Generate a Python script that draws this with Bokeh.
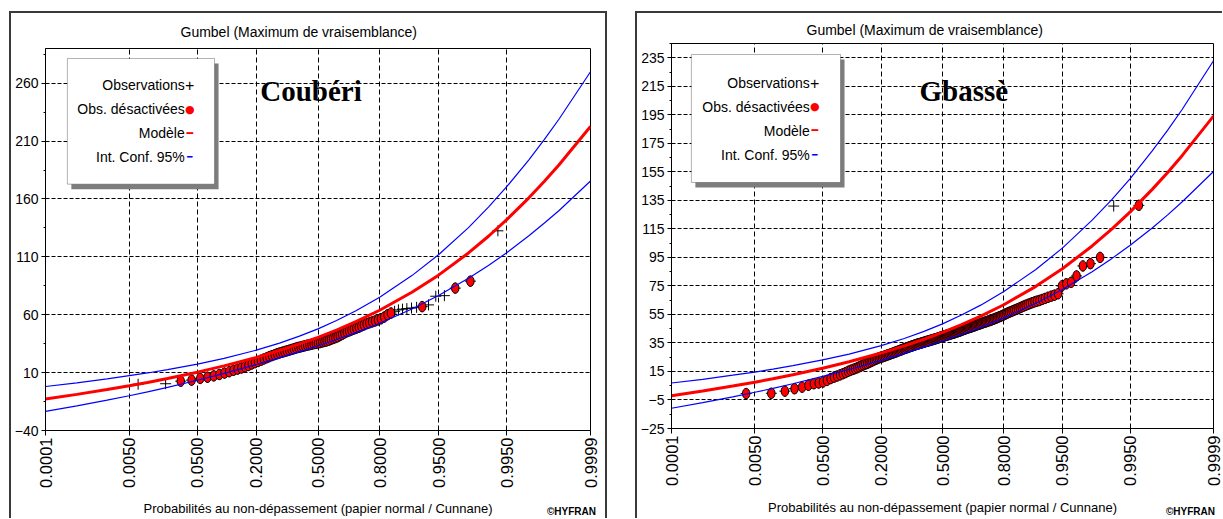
import math
from bokeh.plotting import figure
from bokeh.models import Range1d, FixedTicker, CustomJSTickFormatter, Label, BoxAnnotation, Div
from bokeh.layouts import row, column
from bokeh.embed import file_html
from bokeh.resources import INLINE

# ---------------- data ----------------
TICK_PROBS = [0.0001, 0.005, 0.05, 0.2, 0.5, 0.8, 0.95, 0.995, 0.9999]
TICK_LABELS = ["0.0001", "0.0050", "0.0500", "0.2000", "0.5000", "0.8000", "0.9500", "0.9950", "0.9999"]

CURVE_P = [0.0001, 0.0005, 0.002, 0.005, 0.01, 0.02, 0.05, 0.1, 0.2, 0.3, 0.4, 0.5,
           0.6, 0.7, 0.8, 0.9, 0.95, 0.98, 0.99, 0.995, 0.998, 0.999, 0.9995, 0.9999]

left_model = [-12.7, -8.8, -4.6, -1.3, 1.5, 4.9, 10.4, 15.8, 23.2, 29.2, 34.8, 40.5,
              46.8, 54.2, 63.9, 79.4, 94.2, 113.4, 127.8, 142.1, 161.0, 175.3, 189.6, 222.7]
left_upper = [-2.0, 1.2, 4.6, 7.4, 9.7, 12.6, 17.4, 22.3, 29.4, 35.5, 41.5, 47.8,
              55.0, 63.6, 75.1, 93.8, 111.8, 135.3, 153.0, 170.6, 193.8, 211.5, 229.1, 269.9]
left_lower = [-23.4, -18.8, -13.8, -10.0, -6.7, -2.8, 3.4, 9.3, 17.0, 22.9, 28.1, 33.2,
              38.6, 44.8, 52.7, 65.0, 76.6, 91.5, 102.6, 113.6, 128.2, 139.2, 150.1, 175.5]

right_model = [-2.0, 1.3, 4.8, 7.5, 9.9, 12.7, 17.3, 21.8, 27.9, 32.9, 37.6, 42.4,
               47.6, 53.8, 61.8, 74.7, 87.0, 103.0, 115.0, 126.9, 142.7, 154.6, 166.5, 194.1]
right_upper = [6.9, 9.5, 12.4, 14.6, 16.7, 19.1, 23.1, 27.2, 33.1, 38.1, 43.1, 48.4,
               54.4, 61.5, 71.1, 86.5, 101.5, 121.1, 135.7, 150.3, 169.7, 184.3, 198.9, 232.9]
right_lower = [-10.8, -6.9, -2.8, 0.4, 3.1, 6.4, 11.5, 16.4, 22.8, 27.7, 32.1, 36.4,
               40.9, 46.0, 52.6, 62.8, 72.5, 85.0, 94.3, 103.5, 115.6, 124.8, 134.0, 155.2]

# sorted observations (Couberi)
left_values = [0.0, 0.4, 2.6, 3.5, 5.0, 6.0, 7.2, 8.4, 9.6, 10.8,
               12.0, 13.0, 14.0, 15.0, 16.2, 17.5, 18.6, 19.6, 20.7, 21.8,
               22.8, 23.8, 24.7, 25.5, 26.3, 27.0, 27.6, 28.2, 28.8, 29.4,
               30.0, 30.6, 31.2, 31.8, 32.2, 32.7, 33.2, 33.7, 34.1, 34.5,
               35.0, 35.3, 35.6, 36.0, 36.5, 37.0, 37.4, 38.0, 38.8, 39.5,
               40.2, 41.0, 42.0, 43.0, 44.2, 45.2, 46.0, 46.8, 47.6, 48.4,
               49.2, 50.2, 51.2, 52.2, 53.0, 53.8, 54.6, 55.5, 56.5, 58.0,
               60.0, 61.5, 63.0, 64.2, 64.8, 65.3, 65.8, 66.4, 67.0, 68.5,
               76.0, 76.5, 83.0, 89.0, 132.5]
left_active = [1, 2, 73, 74, 75, 76, 77, 78, 80, 81, 82, 85]

# sorted observations (Gbasse)
right_values = [-0.5, -0.3, 1.2, 2.9, 4.0, 5.3, 6.4, 6.9, 7.6, 8.7,
                10.0, 11.0, 11.8, 12.6, 13.4, 14.2, 15.1, 15.8, 16.4, 17.0,
                17.6, 18.3, 19.0, 19.6, 20.2, 20.6, 21.2, 21.8, 22.4, 23.0,
                23.5, 24.0, 24.5, 24.9, 25.2, 25.5, 25.9, 26.3, 26.6, 27.0,
                27.3, 27.7, 28.0, 28.4, 28.7, 29.1, 29.4, 29.8, 30.1, 30.5,
                30.8, 31.1, 31.4, 31.7, 32.0, 32.3, 32.6, 32.9, 33.2, 33.5,
                33.7, 34.0, 34.2, 34.5, 34.7, 34.9, 35.2, 35.4, 35.6, 35.9,
                36.1, 36.3, 36.5, 36.8, 37.0, 37.2, 37.5, 37.7, 37.9, 38.1,
                38.4, 38.6, 38.9, 39.2, 39.5, 39.7, 39.9, 40.1, 40.4, 40.6,
                40.8, 41.0, 41.3, 41.5, 41.7, 41.9, 42.2, 42.5, 42.7, 43.0,
                43.2, 43.5, 43.8, 44.1, 44.4, 44.7, 45.0, 45.3, 45.6, 45.8,
                46.0, 46.3, 46.6, 46.9, 47.2, 47.5, 47.8, 48.1, 48.4, 48.7,
                49.0, 49.3, 49.6, 49.9, 50.2, 50.5, 50.8, 51.1, 51.5, 51.9,
                52.3, 52.7, 53.1, 53.5, 54.0, 54.4, 55.0, 55.5, 56.0, 56.5,
                57.0, 57.5, 58.0, 58.5, 59.0, 59.6, 60.2, 60.8, 61.4, 62.0,
                62.6, 63.2, 63.8, 64.3, 64.8, 65.5, 66.2, 67.0, 67.8, 68.5,
                69.5, 75.0, 76.5, 77.5, 82.0, 89.0, 90.6, 95.0, 131.0, 131.5]
right_active = [169]

left_yticks = [-40, 10, 60, 110, 160, 210, 260]
right_yticks = [-25, -5, 15, 35, 55, 75, 95, 115, 135, 155, 175, 195, 215, 235]

TITLE = "Gumbel (Maximum de vraisemblance)"
XLABEL = "Probabilités au non-dépassement (papier normal / Cunnane)"
LEGEND_TEXTS = ["Observations", "Obs. désactivées", "Modèle", "Int. Conf. 95%"]
CREDIT = "©HYFRAN"

FONT = "Liberation Sans"
BORDER = "2px solid #3a3a3a"
FIG_Y, FIG_H = 13, 505


def norm_ppf(p):
    lo, hi = -10.0, 10.0
    for _ in range(100):
        mid = 0.5 * (lo + hi)
        if 0.5 * (1.0 + math.erf(mid / math.sqrt(2.0))) < p:
            lo = mid
        else:
            hi = mid
    return 0.5 * (lo + hi)


def panel(fig_x, fig_w, frame, yrange, yticks, values, active, model, upper, lower,
          station, station_xy, title_offset, title_standoff, label_standoff,
          legend_box, legend_right, legend_ys):
    fl, ft, fr, fb = frame
    X0, X1 = norm_ppf(TICK_PROBS[0]), norm_ppf(TICK_PROBS[-1])
    y0, y1 = yrange
    p = figure(width=fig_w, height=FIG_H, x_range=Range1d(X0, X1), y_range=Range1d(y0, y1),
               output_backend="svg", toolbar_location=None, title=TITLE,
               min_border_left=fl - fig_x, min_border_right=fig_x + fig_w - fr,
               min_border_top=ft - FIG_Y, min_border_bottom=FIG_Y + FIG_H - fb)
    p.background_fill_color = "white"
    p.border_fill_color = "white"
    p.outline_line_color = "black"
    p.outline_line_width = 1

    p.title.align = "left"
    p.title.offset = title_offset
    p.title.standoff = title_standoff
    p.title.text_font = FONT
    p.title.text_font_size = "14px"
    p.title.text_font_style = "normal"
    p.title.text_color = "black"

    def X(px):
        return X0 + (px - fl) / (fr - fl) * (X1 - X0)

    def Y(py):
        return y1 - (py - ft) / (fb - ft) * (y1 - y0)

    tick_vals = [norm_ppf(t) for t in TICK_PROBS]
    p.xaxis.ticker = FixedTicker(ticks=tick_vals, minor_ticks=[])
    p.xaxis.formatter = CustomJSTickFormatter(args=dict(vals=tick_vals, labels=TICK_LABELS), code="""
        let b = 0;
        for (let i = 0; i < vals.length; i++) {
            if (Math.abs(vals[i] - tick) < Math.abs(vals[b] - tick)) { b = i; }
        }
        return labels[b];
    """)
    step = yticks[1] - yticks[0]
    minor = [t + step / 2 for t in yticks]
    p.yaxis.ticker = FixedTicker(ticks=yticks, minor_ticks=minor)

    p.xaxis.major_label_orientation = math.pi / 2
    p.xaxis.major_label_text_font = "Liberation Sans"
    p.xaxis.major_label_text_font_size = "16.5px"
    p.xaxis.major_label_standoff = 2
    p.xaxis.major_tick_out = 5
    p.xaxis.major_tick_in = 0
    p.xaxis.axis_label = XLABEL
    p.xaxis.axis_label_text_font = FONT
    p.xaxis.axis_label_text_font_size = "13px"
    p.xaxis.axis_label_text_font_style = "normal"
    p.xaxis.axis_label_standoff = label_standoff

    p.yaxis.major_label_text_font = FONT
    p.yaxis.major_label_text_font_size = "14px"
    p.yaxis.major_label_standoff = 3
    p.yaxis.major_tick_out = 4
    p.yaxis.major_tick_in = 0
    p.yaxis.minor_tick_out = 2
    p.yaxis.minor_tick_in = 0
    for ax in (p.xaxis, p.yaxis):
        ax.axis_line_color = "black"
        ax.major_tick_line_color = "black"
        ax.major_label_text_color = "black"
    p.xaxis.axis_label_text_color = "black"

    p.xgrid.grid_line_color = "black"
    p.xgrid.grid_line_dash = "5 3"
    p.ygrid.grid_line_color = "black"
    p.ygrid.grid_line_dash = "4 2"

    # observations at Cunnane plotting positions
    n = len(values)
    probs = [(i + 1 - 0.4) / (n + 0.2) for i in range(n)]
    xs = [norm_ppf(q) for q in probs]
    deact = [i for i in range(n) if (i + 1) not in active]
    p.scatter(xs, values, marker="cross", size=11, line_color="black", line_width=1)
    p.ellipse([xs[i] for i in deact], [values[i] for i in deact], width=7.5, height=10.5,
              width_units="screen", height_units="screen",
              fill_color="red", line_color="black", line_width=1)

    cx = [norm_ppf(q) for q in CURVE_P]
    p.line(cx, upper, line_color="blue", line_width=1.2)
    p.line(cx, lower, line_color="blue", line_width=1.2)
    p.line(cx, model, line_color="red", line_width=3)

    # legend
    lx0, ly0, lx1, ly1 = legend_box
    p.add_layout(BoxAnnotation(left=X(lx0 + 4), right=X(lx1 + 4), top=Y(ly0 + 5), bottom=Y(ly1 + 5),
                               fill_color="#7d7d7d", fill_alpha=1, line_color=None))
    p.add_layout(BoxAnnotation(left=X(lx0), right=X(lx1), top=Y(ly0), bottom=Y(ly1),
                               fill_color="white", fill_alpha=1, line_color="black", line_width=1))
    for txt, yy in zip(LEGEND_TEXTS, legend_ys):
        p.add_layout(Label(x=X(legend_right), y=Y(yy), text=txt, text_align="right",
                           text_baseline="middle", text_font=FONT, text_font_size="14px",
                           text_color="black"))
    sx = legend_right + 5
    p.add_layout(Label(x=X(sx), y=Y(legend_ys[0]), text="+", text_align="center", text_baseline="middle",
                       text_font="Liberation Sans", text_font_size="16px", text_color="black"))
    p.add_layout(Label(x=X(sx), y=Y(legend_ys[1]), text="●", text_align="center", text_baseline="middle",
                       text_font="DejaVu Sans", text_font_size="11px", text_color="red"))
    p.add_layout(Label(x=X(sx), y=Y(legend_ys[2]), text="━", text_align="center", text_baseline="middle",
                       text_font="DejaVu Sans", text_font_size="11px", text_color="red"))
    p.add_layout(Label(x=X(sx), y=Y(legend_ys[3]), text="━", text_align="center", text_baseline="middle",
                       text_font="DejaVu Sans", text_font_size="9px", text_color="blue"))

    p.add_layout(Label(x=X(station_xy[0]), y=Y(station_xy[1]), text=station, text_align="center",
                       text_baseline="middle", text_font="Liberation Serif", text_font_style="bold",
                       text_font_size="29px", text_color="black"))
    return p


def credit(left_margin):
    return Div(text=CREDIT, width=56, height=12, margin=(-12, 0, 0, left_margin),
               styles={"font-family": "Liberation Sans", "font-size": "10px", "font-weight": "bold",
                       "line-height": "12px", "color": "black", "white-space": "nowrap"})


# left panel: figure spans page x 11..605, y 13..518
p1 = panel(11, 594, (42, 47, 590, 430), (-40, 290), left_yticks, left_values, left_active,
           left_model, left_upper, left_lower, "Coubéri", (309, 90), 135, 17, 10,
           (64, 57, 212, 183), 182, [84, 108, 132, 156])
# right panel: figure spans page x 637..1222, y 13..518
p2 = panel(637, 585, (668, 43, 1213, 428), (-25, 245), right_yticks, right_values, right_active,
           right_model, right_upper, right_lower, "Gbassè", (962, 90), 135, 12, 11,
           (688, 54, 838, 182), 807, [82, 106, 130, 154])

c1 = column(p1, credit(536), margin=(11, 0, 0, 9),
            styles={"border-left": BORDER, "border-top": BORDER, "border-right": BORDER})
c2 = column(p2, credit(529), margin=(11, 0, 0, 0),
            styles={"border-left": BORDER, "border-top": BORDER})
layout = row(c1, c2, spacing=28)
open("out.html", "w").write(file_html(layout, INLINE))
